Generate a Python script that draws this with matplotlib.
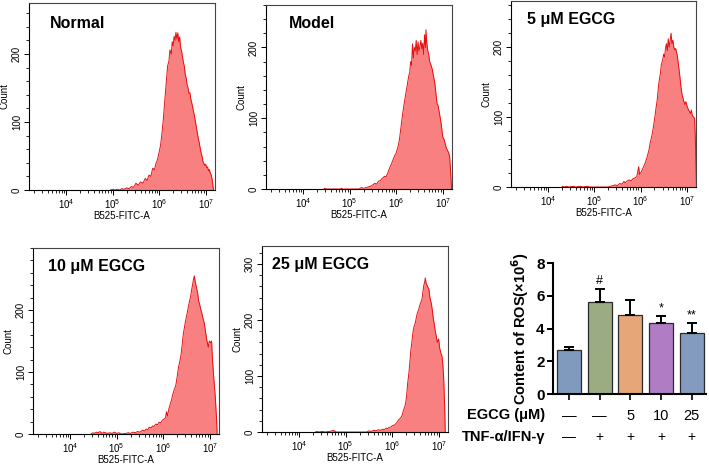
import numpy as np
import matplotlib
matplotlib.use("Agg")
import matplotlib.pyplot as plt
from matplotlib.ticker import LogLocator, MultipleLocator, NullFormatter, FixedLocator

plt.rcParams['font.family'] = ['Liberation Sans', 'DejaVu Sans']

# ---------------- Histogram data (log10 intensity, count) ----------------
normal_x = [4.95, 5.0, 5.05, 5.1, 5.15, 5.2, 5.25, 5.3, 5.35, 5.4, 5.45, 5.5, 5.55, 5.6, 5.65, 5.7, 5.74, 5.78,
            5.82, 5.86, 5.9, 5.93, 5.96, 6.0, 6.03, 6.06, 6.09, 6.11, 6.13, 6.16, 6.18, 6.21, 6.23, 6.26, 6.28,
            6.3, 6.32, 6.34, 6.36, 6.38, 6.4, 6.42, 6.44, 6.46, 6.48, 6.5, 6.52, 6.54, 6.56, 6.58, 6.6, 6.62,
            6.64, 6.66, 6.68, 6.7, 6.72, 6.74, 6.76, 6.78, 6.8, 6.82, 6.84, 6.86, 6.88, 6.9, 6.92, 6.94, 6.96,
            6.98, 7.0, 7.02, 7.04, 7.06, 7.08, 7.1, 7.12, 7.14, 7.16, 7.17]
normal_y = [0, 1, 0, 1, 0, 2, 1, 3, 2, 5, 4, 10, 7, 12, 10, 17, 14, 22,
            20, 32, 30, 39, 44, 56, 66, 84, 105, 123, 140, 165, 182, 190, 206, 200, 218,
            212, 226, 220, 232, 222, 231, 218, 225, 210, 205, 196, 188, 182, 170, 164, 155, 150,
            142, 143, 134, 128, 122, 115, 108, 100, 92, 84, 76, 70, 62, 55, 50, 42, 39,
            36, 38, 33, 34, 28, 30, 25, 22, 15, 4, 0]

model_x = [4.45, 4.46, 4.5, 4.8, 4.82, 4.85, 5.2, 5.25, 5.3, 5.35, 5.4, 5.45, 5.5, 5.54, 5.58, 5.62, 5.66, 5.7,
           5.75, 5.78, 5.82, 5.86, 5.9, 5.93, 5.96, 6.0, 6.04, 6.07, 6.1, 6.14, 6.17, 6.21, 6.24, 6.27, 6.29,
           6.31, 6.33, 6.35, 6.37, 6.39, 6.41, 6.43, 6.45, 6.47, 6.49, 6.51, 6.53, 6.55, 6.57, 6.59, 6.61,
           6.63, 6.64, 6.66, 6.68, 6.7, 6.72, 6.75, 6.78, 6.8, 6.83, 6.86, 6.88, 6.9, 6.93, 6.96, 6.98, 7.0,
           7.03, 7.06, 7.08, 7.1, 7.13, 7.15, 7.17, 7.19]
model_y = [0, 1, 0, 0, 1, 0, 0, 2, 1, 2, 3, 4, 6, 8, 7, 11, 12, 15,
           18, 17, 23, 30, 36, 41, 46, 51, 60, 70, 86, 107, 120, 136, 148, 160, 164,
           180, 175, 205, 185, 200, 195, 210, 190, 208, 195, 201, 210, 198, 206, 190, 218,
           200, 225, 205, 195, 190, 180, 175, 168, 160, 150, 131, 120, 118, 107, 95, 85, 74,
           70, 62, 58, 55, 51, 45, 25, 0]

egcg5_x = [4.3, 4.32, 4.35, 4.4, 4.45, 4.55, 4.6, 4.7, 4.75, 4.85, 4.9, 5.3, 5.35, 5.4, 5.45, 5.5, 5.55, 5.6,
           5.64, 5.67, 5.7, 5.75, 5.8, 5.84, 5.88, 5.92, 5.96, 5.98, 6.02, 6.06, 6.1, 6.14, 6.18, 6.21, 6.25,
           6.28, 6.31, 6.34, 6.36, 6.39, 6.41, 6.43, 6.45, 6.48, 6.5, 6.52, 6.54, 6.56, 6.58, 6.6, 6.62, 6.64,
           6.66, 6.68, 6.7, 6.72, 6.74, 6.76, 6.79, 6.81, 6.83, 6.86, 6.88, 6.9, 6.93, 6.96, 6.98, 7.01, 7.04,
           7.06, 7.08, 7.1, 7.12, 7.15, 7.17, 7.19, 7.21]
egcg5_y = [0, 1, 0, 1, 0, 1, 0, 1, 0, 1, 0, 0, 1, 2, 3, 2, 5, 4,
           8, 6, 8, 10, 9, 12, 13, 15, 29, 18, 22, 28, 34, 42, 52, 63, 75,
           86, 100, 115, 124, 145, 155, 162, 175, 182, 190, 186, 198, 205, 195, 212, 200, 209,
           220, 205, 210, 200, 196, 198, 190, 180, 170, 153, 140, 132, 124, 118, 122, 115, 110,
           108, 105, 110, 102, 100, 98, 60, 0]

egcg10_x = [4.45, 4.49, 4.52, 4.56, 4.6, 4.64, 4.68, 4.72, 4.76, 4.8, 4.85, 4.9, 4.95, 5.0, 5.05, 5.1, 5.2,
            5.25, 5.3, 5.35, 5.4, 5.45, 5.5, 5.55, 5.6, 5.63, 5.67, 5.7, 5.74, 5.77, 5.8, 5.84, 5.88, 5.91,
            5.95, 5.98, 6.02, 6.05, 6.07, 6.09, 6.12, 6.15, 6.18, 6.2, 6.23, 6.27, 6.3, 6.33, 6.36, 6.38,
            6.41, 6.43, 6.45, 6.48, 6.5, 6.52, 6.54, 6.56, 6.59, 6.61, 6.63, 6.65, 6.67, 6.69, 6.71, 6.74,
            6.76, 6.78, 6.81, 6.83, 6.86, 6.88, 6.9, 6.93, 6.95, 6.97, 6.99, 7.02, 7.04, 7.06, 7.09, 7.12,
            7.15, 7.16]
egcg10_y = [0, 2, 1, 3, 2, 4, 1, 3, 2, 1, 2, 1, 3, 1, 2, 0, 1,
            2, 1, 3, 2, 4, 3, 6, 5, 8, 7, 11, 10, 13, 12, 16, 15, 19,
            18, 22, 24, 26, 36, 29, 40, 48, 55, 62, 70, 78, 92, 108, 118, 126,
            145, 160, 169, 182, 190, 196, 205, 212, 222, 232, 240, 249, 255, 245, 238, 228,
            215, 210, 201, 195, 185, 180, 170, 155, 147, 140, 150, 147, 150, 120, 88, 60,
            20, 0]

egcg25_x = [4.35, 4.38, 4.42, 4.5, 4.55, 4.65, 4.7, 4.74, 4.77, 4.8, 5.45, 5.5, 5.55, 5.6, 5.65, 5.7, 5.75,
            5.79, 5.83, 5.87, 5.9, 5.93, 5.97, 6.0, 6.04, 6.07, 6.11, 6.14, 6.18, 6.21, 6.24, 6.27, 6.29,
            6.31, 6.33, 6.36, 6.38, 6.4, 6.43, 6.45, 6.47, 6.5, 6.52, 6.54, 6.57, 6.59, 6.61, 6.64, 6.66,
            6.68, 6.7, 6.71, 6.73, 6.75, 6.77, 6.79, 6.81, 6.84, 6.86, 6.88, 6.9, 6.93, 6.95, 6.97, 7.0,
            7.02, 7.05, 7.07, 7.09, 7.11, 7.13, 7.14]
egcg25_y = [0, 1, 0, 1, 0, 1, 2, 3, 1, 0, 0, 2, 1, 3, 2, 4, 3,
            5, 4, 7, 6, 8, 9, 11, 12, 14, 18, 22, 25, 29, 38, 45, 52,
            65, 85, 106, 125, 145, 166, 180, 188, 196, 205, 212, 219, 225, 230, 237, 250,
            262, 268, 275, 265, 262, 258, 255, 240, 230, 219, 205, 195, 178, 170, 160, 166,
            150, 140, 136, 120, 90, 40, 0]

hist_titles = ["Normal", "Model", "5 μM EGCG", "10 μM EGCG", "25 μM EGCG"]
hist_x = [normal_x, model_x, egcg5_x, egcg10_x, egcg25_x]
hist_y = [normal_y, model_y, egcg5_y, egcg10_y, egcg25_y]
hist_ymax = [275, 260, 266, 300, 332]
hist_yticks = [[0, 100, 200], [0, 100, 200], [0, 100, 200], [0, 100, 200], [0, 100, 200, 300]]

# ---------------- Bar chart data ----------------
bar_means = [2.68, 5.62, 4.84, 4.34, 3.74]
bar_err = [0.16, 0.82, 0.88, 0.40, 0.61]
bar_colors = ["#809abe", "#9bac82", "#e6a678", "#b07cc4", "#839bbe"]
bar_marks = ["", "#", "", "*", "**"]
egcg_row = ["—", "—", "5", "10", "25"]
tnf_row = ["—", "+", "+", "+", "+"]

W, H = 709, 465
fig = plt.figure(figsize=(W / 100, H / 100), dpi=100)

def px_axes(x0, y0, x1, y1):
    return fig.add_axes([x0 / W, 1 - y1 / H, (x1 - x0) / W, (y1 - y0) / H])

hist_boxes = [(29, 3, 215, 190), (266, 5, 452, 189), (511, 1, 696, 187),
              (33, 248, 219, 434), (262, 246, 448, 432)]
title_pos = [(0.113, 0.888), (0.124, 0.9), (0.086, 0.9), (0.08, 0.898), (0.054, 0.903)]

fill_col = "#f98080"
line_col = "#e60f0f"

for i in range(5):
    ax = px_axes(*hist_boxes[i])
    xs = 10 ** np.array(hist_x[i])
    ys = np.array(hist_y[i])
    ax.fill_between(xs, ys, 0, color=fill_col, lw=0)
    ax.plot(xs, ys, color=line_col, lw=0.7)
    ax.set_xscale('log')
    ax.set_xlim(10 ** 3.2, 10 ** 7.2)
    ax.set_ylim(0, hist_ymax[i])
    ax.xaxis.set_major_locator(FixedLocator([1e4, 1e5, 1e6, 1e7]))
    ax.xaxis.set_minor_locator(LogLocator(base=10, subs=np.arange(2, 10)))
    ax.xaxis.set_minor_formatter(NullFormatter())
    ax.set_yticks(hist_yticks[i])
    ax.yaxis.set_minor_locator(MultipleLocator(20))
    ax.tick_params(axis='both', which='major', labelsize=7, length=3.5, width=0.7, pad=1.5, direction='out')
    ax.tick_params(axis='both', which='minor', length=2, width=0.6, direction='out')
    for lab in ax.get_yticklabels():
        lab.set_rotation(90)
        lab.set_va('center')
    ax.set_xlabel("B525-FITC-A", fontsize=7, labelpad=0.5)
    ax.set_ylabel("Count", fontsize=7, labelpad=2)
    for s in ['top', 'right']:
        ax.spines[s].set_color('#444444')
    for s in ax.spines.values():
        s.set_linewidth(0.8)
    tx, ty = title_pos[i]
    ax.text(tx, ty, hist_titles[i], transform=ax.transAxes, fontsize=11.5,
            fontweight='bold', ha='left', va='center')

# ---------------- Bar chart ----------------
axb = px_axes(553, 263, 706, 394)
pos = np.arange(len(bar_means))
axb.bar(pos, bar_means, width=0.78, color=bar_colors, edgecolor='#2a2a2a', linewidth=0.9, zorder=2)
axb.errorbar(pos, bar_means, yerr=[np.zeros(len(bar_err)), bar_err], fmt='none', ecolor='black',
             elinewidth=1.4, capsize=3.8, capthick=1.4, zorder=3, clip_on=False)
axb.set_xlim(-0.52, 4.46)
axb.set_ylim(0, 8)
axb.set_yticks([0, 2, 4, 6, 8])
axb.set_xticks(pos)
axb.set_xticklabels([])
axb.tick_params(axis='y', labelsize=11, length=4, width=1.4, pad=2)
axb.tick_params(axis='x', length=4, width=1.2)
for lab in axb.get_yticklabels():
    lab.set_fontweight('bold')
for s in ['top', 'right']:
    axb.spines[s].set_visible(False)
for s in ['left', 'bottom']:
    axb.spines[s].set_linewidth(1.5)
axb.set_ylabel("Content of ROS(×10$^{\\mathbf{6}}$)", fontsize=10.5, fontweight='bold', labelpad=4)
for p, m, e, mk in zip(pos, bar_means, bar_err, bar_marks):
    if mk:
        axb.text(p, m + e + 0.1, mk, ha='center', va='bottom', fontsize=9)

trans = matplotlib.transforms.blended_transform_factory(axb.transData, axb.transAxes)
for p, a, b in zip(pos, egcg_row, tnf_row):
    axb.text(p, -0.165, a, transform=trans, ha='center', va='center', fontsize=10.5)
    axb.text(p, -0.33, b, transform=trans, ha='center', va='center', fontsize=10)
fig.text(545 / W, 1 - 415 / H, "EGCG (μM)", ha='right', va='center', fontsize=10.5, fontweight='bold')
fig.text(545 / W, 1 - 437 / H, "TNF-α/IFN-γ", ha='right', va='center', fontsize=10.5, fontweight='bold')

fig.savefig("out.png", dpi=100)
